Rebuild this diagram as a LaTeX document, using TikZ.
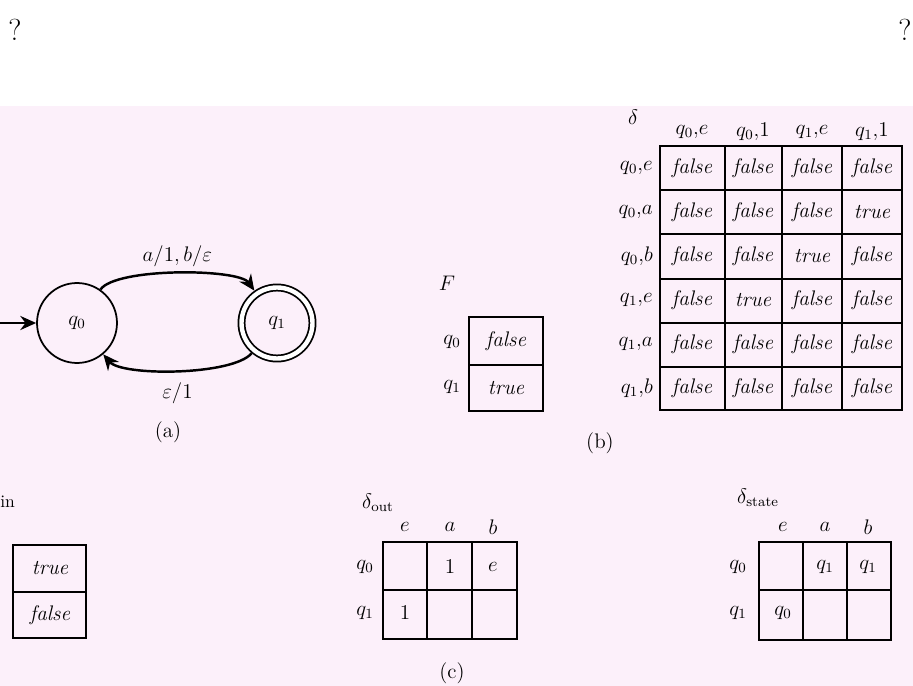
\documentclass[tikz,border=0pt]{standalone}
\usepackage{amsmath, amssymb}
\usepackage{tikz}
\usetikzlibrary{arrows.meta}
\definecolor{scanpink}{RGB}{252,240,250}

\tikzset{
  stnode/.style={circle, draw, line width=1pt, minimum size=1.6cm, inner sep=0pt, font=\large},
  accept/.style={double, double distance=2.5pt, minimum size=1.42cm, outer sep=2.3pt},
  trans/.style={line width=1.4pt, -{Stealth[length=9pt,width=8pt]}},
  tab/.style={line width=1.1pt},
  val/.style={font=\large\itshape},
  lbl/.style={font=\large},
}

\begin{document}
\begin{tikzpicture}[x=0.02cm, y=0.02cm]
    \useasboundingbox (0,0) rectangle (913,-686);
    \fill[scanpink] (0,-106) rectangle (913,-686);
    \node[font=\LARGE] (qm1) at (15,-30) {?};
    \node[font=\LARGE] (qm2) at (905,-30) {?};

    % (a) automaton
    \node[stnode] (q0) at (77,-323) {$q_0$};
    \node[stnode, accept] (q1) at (277,-323) {$q_1$};
    \coordinate (start) at (0,-323);
    \draw[trans] (start) -- (q0);
    \draw[trans] (q0) to[out=55, in=125, looseness=0.45] node[lbl, above] (ab) {$a/1,b/\varepsilon$} (q1);
    \draw[trans] (q1) to[out=230, in=310, looseness=0.5] node[lbl, below=3pt] (eps) {$\varepsilon/1$} (q0);
    \node[font=\large] (capa) at (168,-432) {(a)};

    % (b) F
    \node[lbl] (F) at (447,-283) {$F$};
    \draw[tab] (469,-317) rectangle (543,-411);
    \draw[tab] (469,-365) -- (543,-365);
    \node[lbl] (f0) at (452,-342) {$q_0$};
    \node[lbl] (f1) at (452,-387) {$q_1$};
    \node[val] (fv0) at (506,-341) {false};
    \node[val] (fv1) at (506,-388) {true};

    % (b) delta
    \node[lbl] (dl) at (633,-117) {$\delta$};
    \draw[tab] (660,-146) rectangle (902,-410);
    \foreach \x in {725,782,842} \draw[tab] (\x,-146) -- (\x,-410);
    \foreach \y in {190,234,279,323,367} \draw[tab] (660,-\y) -- (902,-\y);
    \foreach \x/\t [count=\i] in {692/{q_0{,}e},753/{q_0{,}1},812/{q_1{,}e},872/{q_1{,}1}}
        \node[lbl] (dh\i) at (\x,-132) {$\t$};
    \foreach \t [count=\i] in {{q_0{,}e},{q_0{,}a},{q_0{,}b},{q_1{,}e},{q_1{,}a},{q_1{,}b}}
        \node[lbl, anchor=east] (dr\i) at (659,-124-44*\i) {$\t$};
    \foreach \va/\vb/\vc/\vd [count=\i] in {false/false/false/false, false/false/false/true,
        false/false/true/false, false/true/false/false, false/false/false/false, false/false/false/false}
    {
        \node[val] (d\i-1) at (692,-124-44*\i) {\va};
        \node[val] (d\i-2) at (753,-124-44*\i) {\vb};
        \node[val] (d\i-3) at (812,-124-44*\i) {\vc};
        \node[val] (d\i-4) at (872,-124-44*\i) {\vd};
    }
    \node[font=\large] (capb) at (600,-443) {(b)};

    % (c) in
    \node[anchor=west, inner sep=0pt] (inl) at (0,-502) {in};
    \draw[tab] (13,-545) rectangle (86,-638);
    \draw[tab] (13,-592) -- (86,-592);
    \node[val] (iv0) at (50,-568) {true};
    \node[val] (iv1) at (50,-615) {false};

    % (c) delta out
    \node[lbl] (dout) at (378,-503) {$\delta_{\text{out}}$};
    \draw[tab] (383,-542) rectangle (517,-639);
    \foreach \x in {427,472} \draw[tab] (\x,-542) -- (\x,-639);
    \draw[tab] (383,-590) -- (517,-590);
    \foreach \x/\t [count=\i] in {405/e,450/a,493/b}
        \node[lbl] (oh\i) at (\x,-527) {$\t$};
    \node[lbl] (or1) at (365,-567) {$q_0$};
    \node[lbl] (or2) at (365,-613) {$q_1$};
    \node[lbl] (o1-2) at (450,-567) {$1$};
    \node[lbl] (o1-3) at (493,-567) {$e$};
    \node[lbl] (o2-1) at (405,-613) {$1$};

    % (c) delta state
    \node[lbl] (dstate) at (758,-498) {$\delta_{\text{state}}$};
    \draw[tab] (759,-542) rectangle (891,-640);
    \foreach \x in {803,847} \draw[tab] (\x,-542) -- (\x,-640);
    \draw[tab] (759,-590) -- (891,-590);
    \foreach \x/\t [count=\i] in {783/e,825/a,868/b}
        \node[lbl] (sh\i) at (\x,-527) {$\t$};
    \node[lbl] (sr1) at (738,-567) {$q_0$};
    \node[lbl] (sr2) at (738,-613) {$q_1$};
    \node[lbl] (s1-2) at (825,-567) {$q_1$};
    \node[lbl] (s1-3) at (868,-567) {$q_1$};
    \node[lbl] (s2-1) at (783,-613) {$q_0$};
    \node[font=\large] (capc) at (452,-673) {(c)};
\end{tikzpicture}
\end{document}
